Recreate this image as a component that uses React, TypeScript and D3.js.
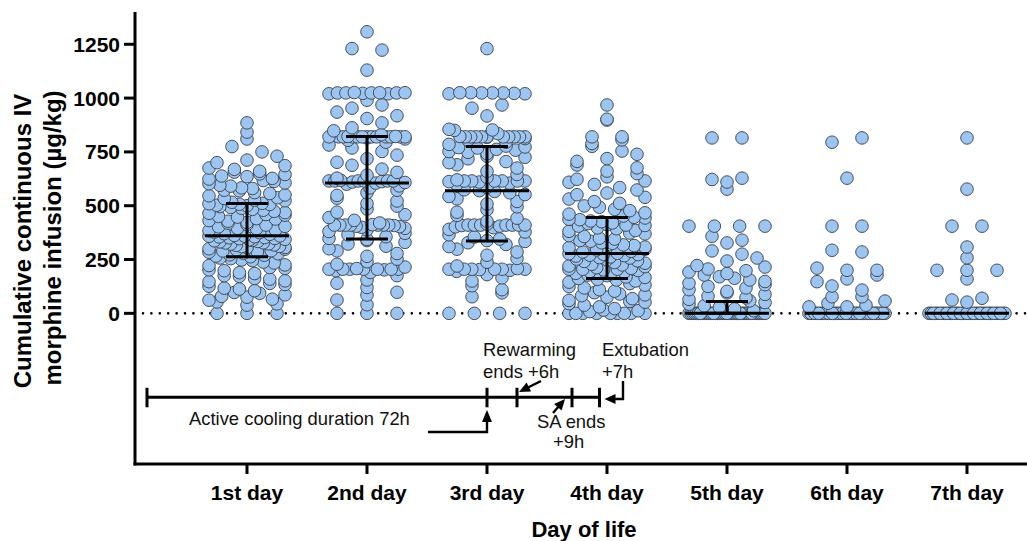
import * as d3 from 'd3';

// ---- data (µg/kg) ----
const dayLabels = ['1st day', '2nd day', '3rd day', '4th day', '5th day', '6th day', '7th day'];

const day1 = [0, 0, 0, 38, 44, 53, 61, 66, 75, 79, 86, 93, 97, 105, 113, 117, 126, 134, 139, 147, 151, 159, 162, 172, 175, 185, 189, 198, 202, 209, 213, 222, 225, 234, 238, 245, 248, 254, 257, 263,
  266, 270, 272, 277, 279, 284, 285, 290, 291, 295, 298, 300, 305, 306, 310, 311, 316, 318, 322, 323, 327, 328, 332, 334, 337, 339, 342, 344, 347, 348, 351, 352, 355, 356, 358, 359, 360,
  362, 367, 370, 375, 378, 384, 387, 393, 395, 402, 404, 410, 413, 419, 422, 428, 431, 438, 440, 447, 450, 456, 459, 465, 468, 474, 479, 483, 488, 492, 496, 500, 502, 506, 507, 509, 511,
  516, 523, 526, 534, 537, 546, 550, 557, 561, 569, 572, 580, 583, 591, 595, 602, 606, 613, 617, 624, 627, 635, 638, 645, 648, 656, 660, 669, 675, 686, 700, 712, 730, 750, 775, 810, 842, 885];

const day2 = [0, 0, 0, 40, 62, 85, 98, 120, 140, 155, 175, 190, 198, 202, 205, 205, 205, 205, 205, 205, 205, 208, 215, 228, 240, 252, 265, 278, 290, 300, 312, 322, 330, 338, 344,
  348, 356, 365, 372, 380, 388, 395, 400, 403, 405, 408, 410, 410, 410, 410, 410, 410, 410, 412, 420, 432, 445, 458, 470, 485, 498, 510, 522, 535, 548, 560, 572, 583, 592, 600, 605,
  608, 610, 612, 615, 615, 615, 615, 615, 615, 618, 628, 642, 655, 670, 688, 702, 718, 735, 752, 768, 782, 795, 804, 810, 815,
  820, 820, 820, 820, 820, 820, 820, 820, 820, 820, 820, 820, 820, 822, 822,
  830, 848, 862, 885, 905, 918, 935, 953, 968, 990, 1020, 1020, 1022, 1024, 1024, 1024, 1024, 1025, 1025, 1026, 1130, 1223, 1230, 1308];

const day3 = [0, 0, 0, 0, 77, 95, 110, 128, 150, 165, 180, 195, 200, 203, 205, 205, 205, 205, 205, 205, 208, 220, 238, 255, 270, 285, 298, 310, 320, 328, 334,
  338, 345, 355, 365, 378, 390, 398, 402, 405, 408, 410, 410, 410, 410, 410, 410, 410, 415, 428, 442, 455, 470, 482, 495, 508, 520, 532, 543, 552, 560, 566, 570,
  574, 585, 598, 605, 610, 612, 615, 615, 615, 615, 615, 615, 620, 632, 645, 660, 675, 690, 700, 705, 718, 725, 730, 742, 748, 752, 758, 762, 768, 770, 773, 777,
  785, 795, 805, 812, 818, 820, 820, 820, 820, 820, 820, 820, 820, 820, 820, 822, 835, 850, 852, 855, 917, 953, 968, 1020, 1020, 1022, 1024, 1024, 1024, 1025, 1025, 1230];

const day4 = [0, 0, 0, 0, 0, 0, 0, 0, 0, 8, 12, 15, 22, 30, 38, 45, 52, 55, 60, 68, 75, 82, 86, 90, 96, 103, 110, 118, 124, 131, 138, 145, 150, 155, 158,
  162, 167, 169, 175, 178, 183, 186, 191, 194, 199, 202, 205, 205, 205, 209, 212, 217, 220, 225, 228, 233, 236, 241, 244, 249, 252, 257, 259, 262, 266, 268, 270, 273, 274, 277,
  279, 285, 288, 295, 298, 305, 308, 315, 318, 325, 328, 335, 338, 345, 349, 357, 361, 369, 373, 381, 385, 393, 397, 405, 408, 410, 412, 417, 420, 426, 429, 435, 437, 443, 446,
  452, 461, 467, 477, 483, 493, 499, 511, 519, 531, 539, 551, 559, 573, 584, 599, 609, 615, 623, 634, 649, 661, 676, 689, 706, 719, 739, 754, 776, 789, 806, 820, 820, 898, 902, 968];

const day5 = [0, 0, 0, 0, 0, 0, 0, 0, 0, 0, 0, 0, 0, 0, 0, 0, 0, 0, 0, 0, 0, 0, 0, 0, 0, 0, 0, 0, 0, 0, 0, 0, 0, 0, 0, 0, 0, 0, 0, 0,
  12, 20, 28, 35, 43, 50, 58, 65, 72, 80, 88, 95, 102, 110, 118, 125, 133, 140, 148, 155, 163, 170, 178, 185, 192, 198, 206, 215, 222,
  243, 257, 275, 290, 327, 340, 358, 405, 405, 405, 405, 577, 610, 622, 628, 815, 815];

const day6 = [0, 0, 0, 0, 0, 0, 0, 0, 0, 0, 0, 0, 0, 0, 0, 0, 0, 0, 0, 0, 0, 0, 0, 0, 0, 0, 0, 0, 0, 0, 0, 0, 0, 0, 0, 0, 0, 0, 0, 0,
  30, 30, 38, 47, 57, 77, 77, 108, 127, 147, 160, 178, 200, 200, 210, 285, 293, 405, 405, 628, 795, 815];

const day7 = [0, 0, 0, 0, 0, 0, 0, 0, 0, 0, 0, 0, 0, 0, 0, 0, 0, 0, 0, 0, 0, 0, 0, 0, 0, 0, 0, 0, 0, 0, 0, 0, 0, 0, 0,
  52, 62, 70, 160, 200, 200, 200, 258, 308, 405, 405, 577, 815];

const dayValues = [day1, day2, day3, day4, day5, day6, day7];

// median and interquartile range as drawn
const medians = [360, 605, 570, 278, 0, 0, 0];
const q1s = [263, 345, 336, 162, 0, 0, 0];
const q3s = [510, 822, 775, 445, 55, 0, 0];

const yTicks = [0, 250, 500, 750, 1000, 1250];

// timeline events, hours of life
const coolingStartH = 4;
const coolingEndH = 72;
const rewarmEndH = 78;
const saEndH = 89;
const extubationH = 94.5;

const W = 1027;
const H = 541;
const FONT = "Arial, 'Liberation Sans', Helvetica, sans-serif";
const DOT_FILL = '#9dc5f1';
const DOT_STROKE = '#3a3f46';
const R = 6.3;
const HALF = 38;
const BIN = 40;

const x = d3.scaleLinear().domain([1 / 15, 7.5]).range([135, W]);
const y = d3.scaleLinear().domain([-700, 1400]).range([464, 12]);
const xh = (h: number) => x(h / 24);

function gcd(a: number, b: number): number {
  return b === 0 ? a : gcd(b, a % b);
}

// Prism-like scatter: values grouped in rows, spread across the column
function layout(values: number[], cx: number) {
  const sorted = [...values].sort((a, b) => a - b);
  const rows = d3.groups(sorted, (v) => Math.round(v / BIN));
  const out: { v: number; px: number }[] = [];
  rows.forEach(([key, vs]) => {
    const n = vs.length;
    const step = n > 1 ? Math.min(30, (2 * HALF) / (n - 1)) : 0;
    const start = -(step * (n - 1)) / 2;
    let k = 1;
    for (const s of [7, 5, 3, 11, 13]) {
      if (n > s && gcd(s, n) === 1) { k = s; break; }
    }
    const shift = key % 2 === 0 ? 0 : Math.floor(n / 2);
    vs.forEach((v, i) => {
      out.push({ v, px: cx + start + step * (((i * k) + shift) % n) });
    });
  });
  return out;
}

function ArrowHead({ tx, ty, fx, fy, len = 11, half = 5 }: { tx: number; ty: number; fx: number; fy: number; len?: number; half?: number }) {
  const dx = tx - fx;
  const dy = ty - fy;
  const l = Math.sqrt(dx * dx + dy * dy);
  const ux = dx / l;
  const uy = dy / l;
  const bx = tx - ux * len;
  const by = ty - uy * len;
  const pts = [
    [tx, ty],
    [bx - uy * half, by + ux * half],
    [bx + uy * half, by - ux * half],
  ];
  return <polygon points={pts.map((p) => p.join(',')).join(' ')} fill="#000" />;
}

export default function App() {
  const x0 = x.range()[0];
  const yBottom = y.range()[0];
  const tlY = y(-390);
  const tlTicks = [coolingStartH, coolingEndH, rewarmEndH, saEndH, extubationH];

  return (
    <svg width={W} height={H} style={{ position: 'absolute', left: 0, top: 0, background: '#fff' }} fontFamily={FONT}>
      {/* zero reference line */}
      <line x1={x0 + 8} x2={W} y1={y(0)} y2={y(0)} stroke="#000" strokeWidth={2.6} strokeDasharray="0 8.4" strokeLinecap="round" />

      {/* dots */}
      {dayValues.map((vals, d) => (
        <g key={d}>
          {layout(vals, x(d + 1)).map((p, i) => (
            <circle key={i} cx={p.px} cy={y(p.v)} r={R} fill={DOT_FILL} stroke={DOT_STROKE} strokeWidth={0.9} />
          ))}
        </g>
      ))}

      {/* median + IQR */}
      {medians.map((m, d) => {
        const cx = x(d + 1);
        return (
          <g key={d} stroke="#000" strokeWidth={3}>
            <line x1={cx - 42} x2={cx + 42} y1={y(m)} y2={y(m)} />
            {q3s[d] > q1s[d] && (
              <>
                <line x1={cx} x2={cx} y1={y(q1s[d])} y2={y(q3s[d])} />
                <line x1={cx - 21} x2={cx + 21} y1={y(q1s[d])} y2={y(q1s[d])} />
                <line x1={cx - 21} x2={cx + 21} y1={y(q3s[d])} y2={y(q3s[d])} />
              </>
            )}
          </g>
        );
      })}

      {/* y axis */}
      <line x1={x0} x2={x0} y1={y.range()[1]} y2={yBottom + 1.5} stroke="#000" strokeWidth={3} />
      {yTicks.map((t) => (
        <g key={t}>
          <line x1={x0 - 11} x2={x0} y1={y(t)} y2={y(t)} stroke="#000" strokeWidth={3} />
          <text x={x0 - 15} y={y(t)} dy="0.36em" textAnchor="end" fontSize={21} fontWeight="bold">{t}</text>
        </g>
      ))}
      <g transform={`translate(22, 241) rotate(-90)`}>
        <text textAnchor="middle" dy="0.36em" fontSize={24} fontWeight="bold">Cumulative continuous IV</text>
      </g>
      <g transform={`translate(52, 238) rotate(-90)`}>
        <text textAnchor="middle" dy="0.36em" fontSize={24} fontWeight="bold">morphine infusion (µg/kg)</text>
      </g>

      {/* x axis */}
      <line x1={x0 - 1.5} x2={W} y1={yBottom} y2={yBottom} stroke="#000" strokeWidth={3} />
      {dayLabels.map((lab, d) => (
        <g key={lab}>
          <line x1={x(d + 1)} x2={x(d + 1)} y1={yBottom} y2={yBottom + 10} stroke="#000" strokeWidth={3} />
          <text x={x(d + 1)} y={yBottom + 36} textAnchor="middle" fontSize={21} fontWeight="bold">{lab}</text>
        </g>
      ))}
      <text x={584} y={537} textAnchor="middle" fontSize={22} fontWeight="bold">Day of life</text>

      {/* treatment timeline */}
      <g stroke="#000" strokeWidth={3}>
        <line x1={xh(coolingStartH)} x2={xh(extubationH)} y1={tlY} y2={tlY} />
        {tlTicks.map((h) => (
          <line key={h} x1={xh(h)} x2={xh(h)} y1={tlY - 9.5} y2={tlY + 10} />
        ))}
      </g>
      <g fill="none" stroke="#000" strokeWidth={2.4}>
        <polyline points={`428,432 ${xh(coolingEndH)},432 ${xh(coolingEndH)},420`} />
        <line x1={541} y1={381} x2={527} y2={388} />
        <line x1={553} y1={413} x2={559} y2={406} />
        <polyline points={`623,381 623,399 614,399`} />
      </g>
      <ArrowHead tx={xh(coolingEndH)} ty={410} fx={xh(coolingEndH)} fy={432} len={12} half={5} />
      <ArrowHead tx={xh(rewarmEndH) + 2} ty={392} fx={541} fy={381} len={11} half={5} />
      <ArrowHead tx={xh(saEndH) - 7} ty={399} fx={553} fy={413} len={11} half={5} />
      <ArrowHead tx={xh(extubationH) + 5} ty={399} fx={623} fy={399} len={11} half={5} />

      <g fontSize={18.4} fill="#111">
        <text x={189} y={425}>Active cooling duration 72h</text>
        <text x={483} y={356}>Rewarming</text>
        <text x={483} y={378}>ends +6h</text>
        <text x={537} y={428}>SA ends</text>
        <text x={553} y={448}>+9h</text>
        <text x={602} y={356}>Extubation</text>
        <text x={602} y={378}>+7h</text>
      </g>
    </svg>
  );
}
